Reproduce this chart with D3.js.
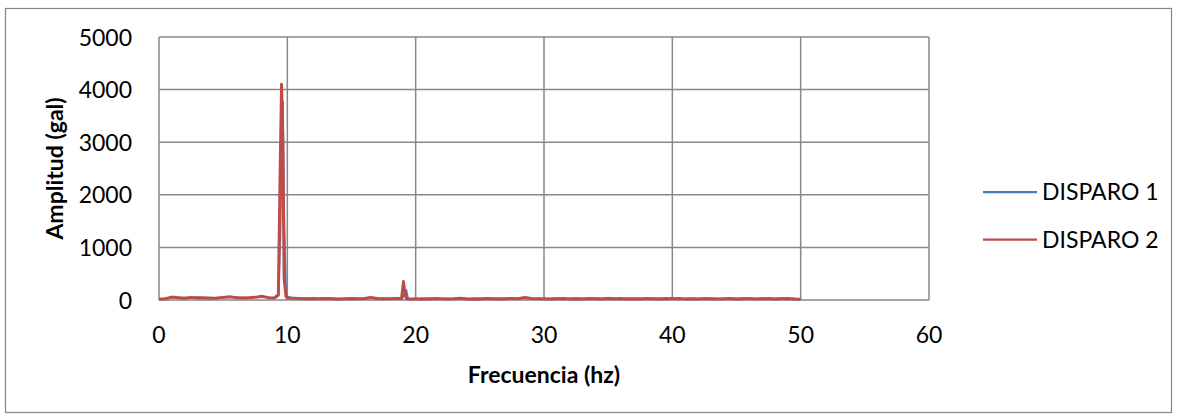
<!DOCTYPE html>
<html lang="es">
<head>
<meta charset="UTF-8">
<title>Amplitud vs Frecuencia</title>
<script src="https://d3js.org/d3.v7.min.js"></script>
<style>
  body { margin: 0; background: #fff; font-family: Lato, "Open Sans", Arial, sans-serif; }
  svg text { fill: #000; }
</style>
</head>
<body>
<div id="chart"></div>
<script>
// Frecuencias (hz) - eje compartido por ambos disparos
const freq = [
  0, 0.5, 1, 1.5, 2, 2.5, 3, 3.5, 4, 4.5, 5, 5.5, 6, 6.5, 7, 7.5, 8, 8.5, 9,
  9.3, 9.45, 9.55, 9.65, 9.75, 9.9,
  10, 10.5, 11, 11.5, 12, 12.5, 13, 13.5, 14, 14.5, 15, 15.5, 16, 16.5, 17, 17.5, 18, 18.5,
  18.9, 19.05, 19.15, 19.27, 19.4, 19.6,
  20, 20.5, 21, 21.5, 22, 22.5, 23, 23.5, 24, 24.5, 25, 25.5, 26, 26.5, 27, 27.5, 28, 28.5, 29, 29.5,
  30, 30.5, 31, 31.5, 32, 32.5, 33, 33.5, 34, 34.5, 35, 35.5, 36, 36.5, 37, 37.5, 38, 38.5, 39, 39.5,
  40, 40.5, 41, 41.5, 42, 42.5, 43, 43.5, 44, 44.5, 45, 45.5, 46, 46.5, 47, 47.5, 48, 48.5, 49, 49.5, 50
];

// Amplitud (gal)
const disparo1 = [
  10, 30, 50, 40, 45, 40, 50, 40, 45, 35, 45, 55, 50, 45, 40, 55, 60, 50, 35,
  80, 1200, 2800, 3770, 1500, 100,
  60, 35, 30, 25, 30, 25, 30, 25, 20, 25, 30, 25, 30, 40, 25, 30, 20, 25,
  25, 60, 120, 185, 30, 20,
  25, 20, 30, 25, 20, 25, 30, 40, 25, 20, 30, 25, 20, 30, 25, 20, 30, 40, 25, 30,
  20, 25, 30, 20, 25, 30, 25, 20, 30, 25, 45, 25, 20, 30, 25, 30, 20, 25, 30, 25,
  30, 20, 25, 30, 25, 20, 30, 25, 20, 30, 25, 30, 20, 25, 30, 20, 25, 30, 20, 25, 15
];
const disparo2 = [
  15, 25, 55, 45, 35, 50, 40, 45, 35, 40, 50, 60, 45, 40, 45, 50, 70, 45, 40,
  100, 2600, 4100, 3000, 400, 60,
  40, 35, 30, 25, 30, 25, 30, 25, 20, 25, 30, 25, 30, 50, 30, 25, 25, 30,
  30, 350, 150, 30, 20, 20,
  20, 25, 20, 30, 25, 20, 25, 35, 20, 25, 20, 30, 25, 20, 25, 30, 25, 50, 30, 25,
  25, 20, 25, 30, 20, 25, 20, 30, 25, 20, 30, 25, 30, 20, 25, 20, 30, 25, 20, 30,
  25, 30, 20, 25, 20, 30, 25, 20, 25, 30, 20, 25, 30, 20, 25, 30, 20, 25, 30, 20, 15
];

const xTicks = [0, 10, 20, 30, 40, 50, 60];
const yTicks = [0, 1000, 2000, 3000, 4000, 5000];
const seriesNames = ["DISPARO 1", "DISPARO 2"];
const seriesColors = ["#4A7EBB", "#BE4B48"];
const seriesWidths = [2, 3];

const W = 1177, H = 419;
const plot = {left: 159, right: 929, top: 37, bottom: 300};

const svg = d3.select("#chart").append("svg")
  .attr("width", W)
  .attr("height", H);

// outer chart border
svg.append("rect")
  .attr("x", 5.5).attr("y", 8.5)
  .attr("width", 1166).attr("height", 404)
  .attr("fill", "#fff")
  .attr("stroke", "#888")
  .attr("stroke-width", 1.25);

const x = d3.scaleLinear().domain([0, 60]).range([plot.left, plot.right]);
const y = d3.scaleLinear().domain([0, 5000]).range([plot.bottom, plot.top]);

// gridlines
svg.append("g")
  .selectAll("line")
  .data(yTicks)
  .join("line")
  .attr("x1", plot.left).attr("x2", plot.right)
  .attr("y1", d => y(d)).attr("y2", d => y(d))
  .attr("stroke", "#888").attr("stroke-width", 1.5);

svg.append("g")
  .selectAll("line")
  .data(xTicks)
  .join("line")
  .attr("x1", d => x(d)).attr("x2", d => x(d))
  .attr("y1", plot.top).attr("y2", plot.bottom)
  .attr("stroke", "#888").attr("stroke-width", 1.5);

// tick labels
svg.append("g")
  .selectAll("text")
  .data(yTicks)
  .join("text")
  .attr("x", 132)
  .attr("y", d => y(d) + 8.5)
  .attr("text-anchor", "end")
  .attr("font-size", 23)
  .text(d => d);

svg.append("g")
  .selectAll("text")
  .data(xTicks)
  .join("text")
  .attr("x", d => x(d))
  .attr("y", 343)
  .attr("text-anchor", "middle")
  .attr("font-size", 23)
  .text(d => d);

// axis titles
svg.append("text")
  .attr("x", (plot.left + plot.right) / 2)
  .attr("y", 383)
  .attr("text-anchor", "middle")
  .attr("font-size", 23)
  .attr("font-weight", "bold")
  .text("Frecuencia (hz)");

svg.append("text")
  .attr("transform", `translate(63, ${(plot.top + plot.bottom) / 2}) rotate(-90)`)
  .attr("text-anchor", "middle")
  .attr("font-size", 23)
  .attr("font-weight", "bold")
  .text("Amplitud (gal)");

// series
const line = d3.line()
  .x((d, i) => x(freq[i]))
  .y(d => y(d));

[disparo1, disparo2].forEach((s, k) => {
  svg.append("path")
    .datum(s)
    .attr("fill", "none")
    .attr("stroke", seriesColors[k])
    .attr("stroke-width", seriesWidths[k])
    .attr("stroke-linejoin", "round")
    .attr("d", line);
});

// legend
const legend = svg.append("g")
  .selectAll("g")
  .data(seriesNames)
  .join("g")
  .attr("transform", (d, i) => `translate(983, ${192 + i * 47.5})`);

legend.append("line")
  .attr("x1", 0).attr("x2", 54)
  .attr("stroke", (d, i) => seriesColors[i])
  .attr("stroke-width", 2.25);

legend.append("text")
  .attr("x", 59)
  .attr("y", 8)
  .attr("font-size", 23)
  .text(d => d);
</script>
</body>
</html>
